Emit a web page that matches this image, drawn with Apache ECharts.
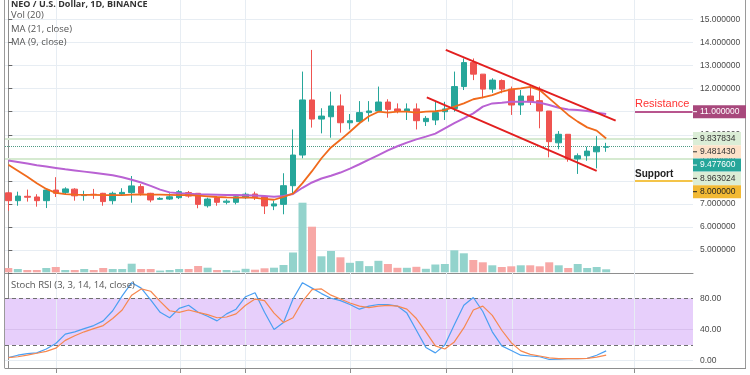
<!DOCTYPE html>
<html><head><meta charset="utf-8">
<script src="https://cdn.jsdelivr.net/npm/echarts@6/dist/echarts.min.js"></script>
<style>html,body{margin:0;padding:0;background:#fff}#c{width:750px;height:375px}</style>
</head><body><div id="c"></div>
<script>
// ---------- data ----------
const openP  = [7.48,7.14,7.33,7.30,7.14,7.60,7.50,7.64,7.36,7.42, 7.46,7.14,7.43,7.49,7.75,7.46,7.20,7.21,7.27,7.49, 7.46,6.92,7.27,7.07,7.07,7.27,7.43,7.31,6.91,6.98, 7.79,9.12,11.51,10.68,10.78,11.25,10.52,10.57,10.96,11.03, 11.42,11.12,11.03,11.12,10.57,10.64,11.00,11.14,12.09,13.13, 12.63,11.98,12.35,11.98,11.29,11.68,11.48,11.03,9.65,10.02, 8.95,9.09,9.26,9.46];
const closeP = [7.14,7.34,7.29,7.14,7.60,7.46,7.65,7.35,7.40,7.40, 7.10,7.46,7.50,7.78,7.46,7.17,7.24,7.31,7.53,7.34, 6.98,7.21,7.07,7.12,7.31,7.42,7.28,6.91,7.00,7.79, 9.12,11.51,10.68,10.81,11.25,10.52,10.61,10.96,11.03,11.42, 11.10,11.03,11.12,10.61,10.71,10.96,11.12,12.09,13.13,12.63, 11.98,12.37,11.98,11.29,11.68,11.43,11.03,9.70,10.02,8.95, 9.09,9.29,9.48,9.4776];
const lowP   = [6.70,6.92,7.10,6.88,6.82,7.30,7.42,7.14,7.14,7.22, 6.92,6.98,7.36,7.05,7.36,7.07,7.17,7.17,7.21,7.27, 6.81,6.84,6.92,6.98,6.98,7.21,7.17,6.56,6.73,6.55, 7.46,8.98,10.31,10.06,9.87,10.09,10.23,10.49,10.57,10.98, 10.74,10.93,10.64,10.23,10.38,10.42,10.64,11.00,11.94,12.37, 11.58,11.82,11.80,10.86,10.86,11.29,10.28,9.02,9.37,8.83, 8.30,8.87,8.54,9.26];
const highP  = [7.53,7.53,7.62,7.42,7.62,8.16,7.72,7.68,7.57,7.65, 7.48,7.53,7.68,8.21,7.86,7.48,7.29,7.46,7.60,7.56, 7.47,7.27,7.31,7.20,7.42,7.49,7.53,7.31,7.14,8.33, 10.23,12.74,13.68,11.15,11.87,11.75,10.90,11.46,11.46,12.09, 11.54,11.36,11.36,11.36,10.81,11.43,11.43,12.74,13.31,13.31, 12.63,12.45,12.40,12.09,11.94,12.09,12.09,11.03,10.16,10.02, 9.19,9.48,9.94,9.65];
const volumes = [4.3,3.3,2.3,2.3,4.3,5.3,2.3,2.3,3.3,2.3, 4.3,3.3,3.3,8.6,3.3,3.3,1.7,2.3,3.3,3.3, 6.3,4.6,2.3,2.3,1.7,3.5,2.6,4.0,4.6,7.3, 19.8,69.6,45.6,16.0,21.3,15.0,9.5,11.2,6.2,11.5, 8.3,4.5,4.5,5.5,3.5,7.8,8.3,22.0,19.0,12.3, 10.0,7.0,5.3,6.0,7.0,7.0,6.0,10.0,7.0,4.3, 8.3,4.3,5.3,3.0];
const ma9  = [8.70,8.44,8.18,7.90,7.65,7.48,7.42,7.40,7.39,7.39, 7.38,7.38,7.38,7.40,7.41,7.40,7.40,7.39,7.38,7.38, 7.36,7.33,7.30,7.28,7.27,7.28,7.26,7.22,7.18,7.30, 7.45,7.90,8.42,8.98,9.45,9.78,10.13,10.50,10.80,11.00, 10.96,11.00,11.00,10.96,11.00,11.02,11.07,11.22,11.36,11.54, 11.62,11.72,11.87,11.97,12.01,12.08,11.94,11.58,11.22,10.86, 10.57,10.32,10.18,9.837834];
const ma21 = [8.88,8.82,8.75,8.68,8.62,8.56,8.50,8.45,8.40,8.35, 8.30,8.24,8.16,8.05,7.93,7.78,7.62,7.50,7.46,7.44, 7.42,7.41,7.40,7.39,7.39,7.38,7.36,7.34,7.31,7.34, 7.43,7.70,7.93,8.10,8.22,8.36,8.53,8.72,8.92,9.12, 9.32,9.50,9.66,9.80,9.92,10.05,10.28,10.50,10.71,10.93, 11.22,11.36,11.39,11.43,11.43,11.43,11.39,11.29,11.17,11.10, 11.07,11.03,10.96,10.90];
const stochK = [4,7,9,10,15,22,34,37,41,45, 51,64,83,100,93,78,62,55,67,71, 62,57,51,60,66,82,87,62,40,49, 79,100,93,86,80,77,72,66,70,72, 72,70,61,39,17,10,20,46,71,81, 63,37,19,13,7,6,5,1.5,2,2.5, 2.5,3,7,12.5];
const stochD = [4,5,7,9.5,12,16,26,32,37,41, 45,54,65,84,92,89,76,64,62,65, 62,59,55,56,60,71,79,77,61,49, 55,76,91,92,84,79,74,70,68,70, 71,70,66,54,37,19,15,24,42,65, 70,58,39,23,12.5,8,6,3.5,2.5,2.5, 2.5,3,4.5,7];
const dateGridX = [5.1, 18.1, 25, 36, 46.2, 53.1, 66];
const trendUpper = [[46.1, 13.68], [64.0, 10.61]];
const trendLower = [[44.1, 11.62], [62.0, 8.43]];
const resistanceLevel = 11;
const supportLevel = 8;
const zoneStartX = 66.04;
const priceLines = [9.837834, 9.4776, 8.963024];
const tagValues = [11, 9.837834, 9.48143, 9.4776, 8.963024, 8];
const rsiTicks = [0, 40, 80];
const rsiBand = [20, 80];

// ---------- chart ----------
const xMin = -0.35, xMax = 72.15;
const UP = '#26a69a', DOWN = '#ef5350';
const idx = openP.map((_, i) => i);
const candleData = idx.map(i => [i, openP[i], closeP[i], lowP[i], highP[i]]);
const volData = idx.map(i => ({ value: [i, volumes[i]], itemStyle: { color: closeP[i] >= openP[i] ? '#93d3cc' : '#f7a8a6' } }));
const AXC = '#8e8e8e', GRIDC = '#e7edf3';
const labelFont = { fontFamily: 'Liberation Sans', fontSize: 8.5, color: '#4a4a4a' };

const baseX = (gi) => ({ type: 'value', gridIndex: gi, min: xMin, max: xMax, show: true,
  axisLine: { show: false }, axisTick: { show: false }, axisLabel: { show: false }, splitLine: { show: false } });

const titleStyle = { fontFamily: 'Open Sans', fontSize: 9.5, color: '#555', fontWeight: 'normal', lineHeight: 12 };

const option = {
  animation: false,
  backgroundColor: '#fff',
  title: [
    { text: 'NEO / U.S. Dollar, 1D, BINANCE', left: 11, top: -2, padding: 0, textStyle: Object.assign({}, titleStyle, { fontSize: 9, fontWeight: 'bold', color: '#333' }) },
    { text: 'Vol (20)', left: 11, top: 9.7, padding: 0, textStyle: titleStyle },
    { text: 'MA (21, close)', left: 11, top: 23, padding: 0, textStyle: titleStyle },
    { text: 'MA (9, close)', left: 11, top: 36.3, padding: 0, textStyle: titleStyle },
    { text: 'Stoch RSI (3, 3, 14, 14, close)', left: 11, top: 279, padding: 0, textStyle: titleStyle }
  ],
  grid: [
    { left: 5, right: 57, top: -3.55, height: 276.6, containLabel: false, outerBoundsMode: 'none' },
    { left: 5, right: 57, top: 172.3, height: 100, containLabel: false, outerBoundsMode: 'none' },
    { left: 5, right: 57, top: 273, height: 95, containLabel: false, outerBoundsMode: 'none' }
  ],
  xAxis: [
    Object.assign(baseX(0), { axisLine: { show: true, onZero: false, lineStyle: { color: AXC, width: 1 } } }),
    baseX(1),
    Object.assign(baseX(2), { axisLine: { show: true, onZero: false, lineStyle: { color: AXC, width: 1 } },
      axisTick: { show: true, customValues: dateGridX, length: 5, inside: false, lineStyle: { color: AXC } } })
  ],
  yAxis: [
    { type: 'value', gridIndex: 0, position: 'right', min: 4, max: 16, interval: 1,
      axisLine: { show: true, lineStyle: { color: AXC } },
      axisTick: { show: true, length: 4, lineStyle: { color: '#666' } },
      axisLabel: Object.assign({ margin: 7, formatter: v => (v <= 4 ? '' : v.toFixed(6)) }, labelFont),
      splitLine: { show: true, lineStyle: { color: GRIDC, width: 1 } } },
    { type: 'value', gridIndex: 1, min: 0, max: 100, show: false, splitLine: { show: false } },
    { type: 'value', gridIndex: 2, position: 'right', min: -9.4, max: 112.4,
      axisLine: { show: true, lineStyle: { color: AXC } },
      axisTick: { show: true, length: 4, customValues: rsiTicks, lineStyle: { color: '#666' } },
      axisLabel: Object.assign({ margin: 7, customValues: rsiTicks, formatter: v => v.toFixed(2) }, labelFont),
      splitLine: { show: false } }
  ],
  series: [
    { type: 'candlestick', xAxisIndex: 0, yAxisIndex: 0, data: candleData, barWidth: 6, z: 2,
      itemStyle: { color: UP, color0: DOWN, borderColor: UP, borderColor0: DOWN, borderWidth: 1 } },
    { type: 'bar', xAxisIndex: 1, yAxisIndex: 1, data: volData, barWidth: 8, z: 1 },
    { type: 'line', xAxisIndex: 0, yAxisIndex: 0, data: idx.map(i => [i, ma21[i]]), showSymbol: false, symbol: 'none',
      lineStyle: { color: '#b962d3', width: 2 }, z: 3 },
    { type: 'line', xAxisIndex: 0, yAxisIndex: 0, data: idx.map(i => [i, ma9[i]]), showSymbol: false, symbol: 'none',
      lineStyle: { color: '#f06a1c', width: 1.8 }, z: 3,
      markLine: {
        silent: true, symbol: ['none', 'none'], z: 1, label: { show: false },
        data: [
          ...dateGridX.map(x => ({ xAxis: x, lineStyle: { color: GRIDC, width: 1, type: 'solid' } })),
          { yAxis: priceLines[0], lineStyle: { color: '#d6ead1', width: 2, type: 'solid' } },
          { yAxis: priceLines[1], lineStyle: { color: '#4e9a84', width: 1, type: 'dotted' } },
          { yAxis: priceLines[2], lineStyle: { color: '#d6ead1', width: 2, type: 'solid' } },
          [ { coord: [zoneStartX, resistanceLevel], lineStyle: { color: '#b8558e', width: 2, type: 'solid' },
              label: { show: true, position: 'insideStartTop', formatter: 'Resistance', distance: [0, 2], color: '#ff3333', fontSize: 11, fontFamily: 'Liberation Sans' } },
            { coord: [xMax - 0.05, resistanceLevel] } ],
          [ { coord: [zoneStartX, supportLevel], lineStyle: { color: '#f4c449', width: 2, type: 'solid' },
              label: { show: true, position: 'insideStartTop', formatter: 'Support', distance: [0, 2], color: '#222', fontSize: 10, fontWeight: 'bold', fontFamily: 'Liberation Sans' } },
            { coord: [xMax - 0.05, supportLevel] } ]
        ]
      } },
    { type: 'line', xAxisIndex: 0, yAxisIndex: 0, data: trendUpper, showSymbol: false, symbol: 'none',
      lineStyle: { color: '#e21f1f', width: 2 }, z: 4 },
    { type: 'line', xAxisIndex: 0, yAxisIndex: 0, data: trendLower, showSymbol: false, symbol: 'none',
      lineStyle: { color: '#e21f1f', width: 2 }, z: 4 },
    { type: 'line', xAxisIndex: 2, yAxisIndex: 2, data: idx.map(i => [i, stochK[i]]), showSymbol: false, symbol: 'none',
      lineStyle: { color: '#4a9ff2', width: 1.2 }, z: 3,
      markArea: { silent: true, z: 1, itemStyle: { color: '#e7cffb' }, data: [[{ yAxis: rsiBand[0] }, { yAxis: rsiBand[1] }]] },
      markLine: {
        silent: true, symbol: ['none', 'none'], z: 1.5, label: { show: false },
        data: [
          ...dateGridX.map(x => ({ xAxis: x, lineStyle: { color: GRIDC, width: 1, type: 'solid' } })),
          { yAxis: 0, lineStyle: { color: GRIDC, width: 1, type: 'solid' } },
          { yAxis: 40, lineStyle: { color: '#d8bfee', width: 1, type: 'solid' } },
          { yAxis: rsiBand[0], lineStyle: { color: '#707070', width: 1, type: [4, 3] } },
          { yAxis: rsiBand[1], lineStyle: { color: '#707070', width: 1, type: [4, 3] } }
        ]
      } },
    { type: 'line', xAxisIndex: 2, yAxisIndex: 2, data: idx.map(i => [i, stochD[i]]), showSymbol: false, symbol: 'none',
      lineStyle: { color: '#f7884f', width: 1.2 }, z: 3 }
  ]
};

const chart = echarts.init(document.getElementById('c'));
chart.setOption(option);

// price tags on the right axis (stacked like the original)
const tagBg = ['#a8487c', '#dbedd6', '#fde2c9', '#26a69a', '#dbedd6', '#f2b934'];
const tagFg = ['#ffffff', '#333333', '#333333', '#ffffff', '#333333', '#222222'];
const xEdge = chart.convertToPixel({ xAxisIndex: 0 }, xMax);
const order = tagValues.map((v, i) => i).sort((a, b) => tagValues[b] - tagValues[a]);
let prevY = -Infinity;
const TAG_H = 13.3;
const elements = [];
order.forEach(i => {
  let y = chart.convertToPixel({ yAxisIndex: 0 }, tagValues[i]);
  if (y < prevY + TAG_H) y = prevY + TAG_H;
  prevY = y;
  elements.push({ type: 'rect', z: 100, shape: { x: xEdge, y: y - 6.5, width: i === 0 ? 53 : 48, height: 13 }, style: { fill: tagBg[i] } });
  elements.push({ type: 'line', z: 101, shape: { x1: xEdge, y1: y, x2: xEdge + 4, y2: y }, style: { stroke: tagFg[i], lineWidth: 1 } });
  elements.push({ type: 'text', z: 101, x: xEdge + 7, y: y, style: { text: tagValues[i].toFixed(6), fill: tagFg[i], font: '8.5px "Liberation Sans"', verticalAlign: 'middle', align: 'left' } });
});
// frame lines
elements.push({ type: 'line', z: 50, shape: { x1: 4.5, y1: 0, x2: 4.5, y2: 368 }, style: { stroke: '#9a9a9a', lineWidth: 1 } });
elements.push({ type: 'line', z: 50, shape: { x1: 745.5, y1: 0, x2: 745.5, y2: 368.5 }, style: { stroke: '#9a9a9a', lineWidth: 1 } });
elements.push({ type: 'line', z: 50, shape: { x1: xEdge, y1: 368.5, x2: 746, y2: 368.5 }, style: { stroke: AXC, lineWidth: 1 } });
chart.setOption({ graphic: { elements: elements } });
</script>
</body></html>
